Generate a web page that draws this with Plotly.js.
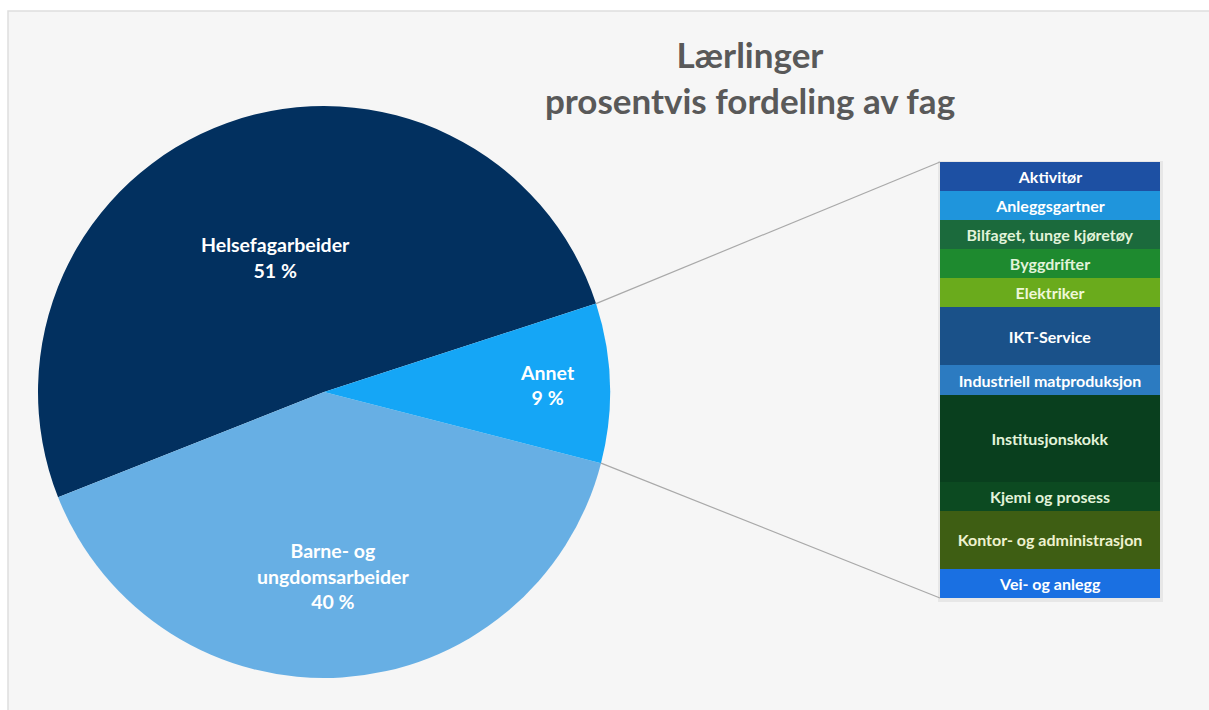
<!DOCTYPE html>
<html>
<head>
<meta charset="utf-8">
<script src="https://cdn.plot.ly/plotly-3.0.1.min.js"></script>
<style>html,body{margin:0;padding:0;background:#fff;}#chart{width:1209px;height:710px;}</style>
</head>
<body>
<div id="chart"></div>
<script>
// Pie data (percent)
const pieLabels = ["Helsefagarbeider", "Barne- og ungdomsarbeider", "Annet"];
const NB = "\u00a0";
const pieText = ["Helsefagarbeider", NB + "<br>" + NB + "<br>" + NB + "<br>Barne- og<br>ungdomsarbeider", "Annet"];
const pieValues = [51, 40, 9];
const pieColors = ["#02305f", "#67afe4", "#15a6f6"];

// Breakdown of "Annet" (relative sizes)
const subLabels = ["Aktivitør", "Anleggsgartner", "Bilfaget, tunge kjøretøy", "Byggdrifter", "Elektriker",
  "IKT-Service", "Industriell matproduksjon", "Institusjonskokk", "Kjemi og prosess",
  "Kontor- og administrasjon", "Vei- og anlegg"];
const subValues = [1, 1, 1, 1, 1, 2, 1, 3, 1, 2, 1];
const subColors = ["#1d50a3", "#1f95dc", "#1b6a3c", "#1e8a2f", "#6aab1c", "#1a5189", "#2c7bc1",
  "#093f1e", "#0c4a21", "#3e5e13", "#1a70e2"];
const subTextColors = ["#ffffff", "#ffffff", "#e2f3da", "#e2f3da", "#eef7d8", "#ffffff", "#ffffff",
  "#e2f3da", "#e2f3da", "#eef2cf", "#ffffff"];

const W = 1209, H = 710;
const FONT = "Lato, 'Open Sans', sans-serif";

// pie geometry (px)
const pcx = 324, pcy = 392, pr = 286;
const pieDomain = {x: [(pcx - pr) / W, (pcx + pr) / W], y: [(H - pcy - pr) / H, (H - pcy + pr) / H]};
const totalPie = pieValues.reduce((a, b) => a + b, 0);
const startAngle = 18; // math degrees where the first slice begins (going counterclockwise)
// plotly (counterclockwise): first slice's far edge sits at 'rotation' (clockwise from 12 o'clock)
const rotation = 90 - (startAngle + 360 * pieValues[0] / totalPie);

// bar geometry
const barDomX = [940 / W, 1160 / W];
const barDomY = [(H - 598) / H, (H - 162) / H];

const traces = [{
  type: "pie",
  labels: pieLabels,
  values: pieValues,
  text: pieText,
  sort: false,
  direction: "counterclockwise",
  rotation: rotation,
  domain: pieDomain,
  marker: {colors: pieColors, line: {width: 0}},
  textinfo: "text",
  texttemplate: "%{text}<br>%{value} %",
  textposition: "inside",
  insidetextorientation: "horizontal",
  textfont: {family: FONT, size: 19.5, color: "#ffffff", weight: "bold"},
  hoverinfo: "label+percent",
  showlegend: false
}];

const subTotal = subValues.reduce((a, b) => a + b, 0);
subLabels.forEach((lab, i) => {
  traces.push({
    type: "bar",
    x: ["Annet"],
    y: [subValues[i]],
    name: lab,
    text: [lab],
    textposition: "inside",
    insidetextanchor: "middle",
    textangle: 0,
    constraintext: "none",
    textfont: {family: FONT, size: 16, color: subTextColors[i], weight: "bold"},
    marker: {color: subColors[i], line: {width: 0}},
    xaxis: "x2",
    yaxis: "y2",
    showlegend: false,
    hoverinfo: "name"
  });
});

// connector lines computed from pie geometry
const annetStart = startAngle + 360 * (pieValues[0] + pieValues[1]) / totalPie;
const annetEnd = startAngle + 360;
function piePt(deg) {
  const r = deg * Math.PI / 180;
  return [(pcx + pr * Math.cos(r)) / W, 1 - (pcy - pr * Math.sin(r)) / H];
}
const pTop = piePt(annetEnd), pBot = piePt(annetStart);

const shapes = [
  {type: "rect", xref: "paper", yref: "paper", x0: 8 / W, x1: 1.01, y0: -0.01, y1: 1 - 11 / H,
   fillcolor: "#f6f6f6", line: {color: "#dedede", width: 1.5}, layer: "below"},
  // soft shadow behind bar
  {type: "rect", xref: "paper", yref: "paper", x0: barDomX[0] - 2 / W, x1: barDomX[1] + 3 / W,
   y0: barDomY[0] - 4 / H, y1: barDomY[1] + 1 / H, fillcolor: "rgba(0,0,0,0.06)", line: {width: 0}, layer: "below"},
  {type: "line", xref: "paper", yref: "paper", x0: pTop[0], y0: pTop[1], x1: barDomX[0], y1: barDomY[1],
   line: {color: "#a9a9a9", width: 1.2}},
  {type: "line", xref: "paper", yref: "paper", x0: pBot[0], y0: pBot[1], x1: barDomX[0], y1: barDomY[0],
   line: {color: "#a9a9a9", width: 1.2}}
];

const layout = {
  width: W, height: H,
  margin: {l: 0, r: 0, t: 0, b: 0},
  paper_bgcolor: "#ffffff",
  plot_bgcolor: "rgba(0,0,0,0)",
  title: {
    text: "Lærlinger<br>prosentvis fordeling av fag",
    x: 750 / W, xanchor: "center", y: 1 - 68 / H, yanchor: "top",
    font: {family: FONT, size: 35, color: "#595959", weight: "bold"}
  },
  barmode: "stack",
  bargap: 0,
  xaxis2: {domain: barDomX, anchor: "y2", range: [-0.5, 0.5], visible: false, fixedrange: true},
  yaxis2: {domain: barDomY, anchor: "x2", range: [subTotal, 0], visible: false, fixedrange: true},
  shapes: shapes,
  showlegend: false
};

Plotly.newPlot("chart", traces, layout, {displayModeBar: false, staticPlot: true});
</script>
</body>
</html>
